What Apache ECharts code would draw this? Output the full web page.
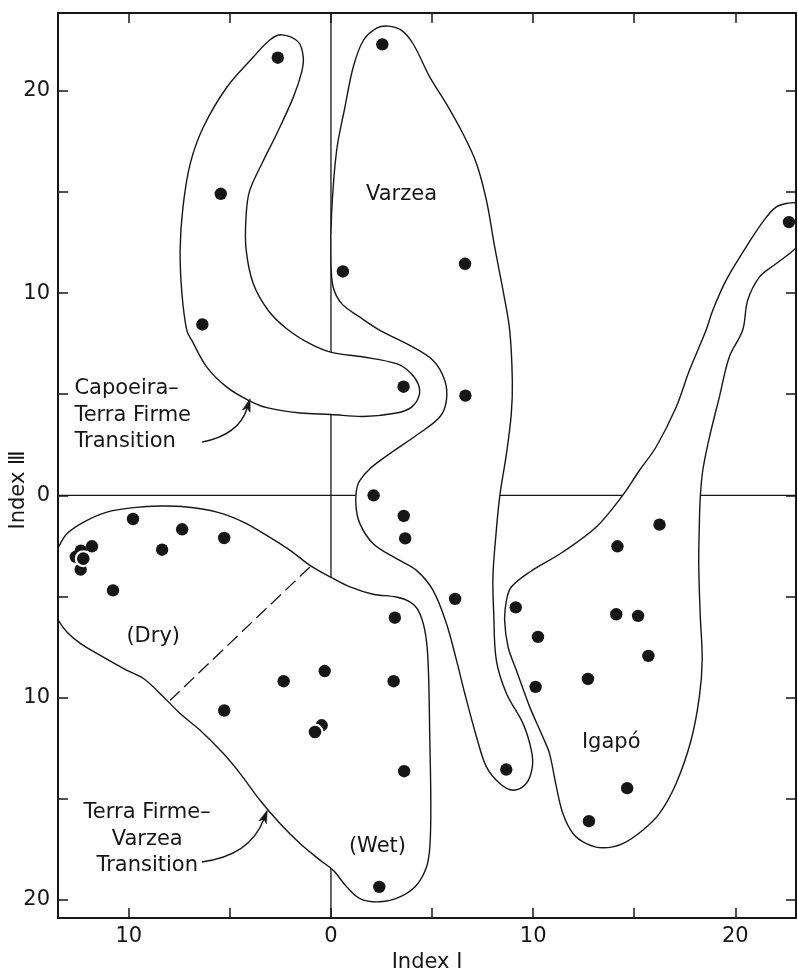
<!DOCTYPE html>
<html>
<head>
<meta charset="utf-8">
<script src="https://cdn.jsdelivr.net/npm/echarts@6/dist/echarts.min.js"></script>
<style>
  html, body { margin: 0; padding: 0; background: #fff; }
  #chart { width: 798px; height: 971px; }
</style>
</head>
<body>
<div id="chart"></div>
<script>
// Axis extents and tick positions (Index I horizontal, Index III vertical)
const xRange = [-13.5, 23];
const yRange = [-20.9, 23.85];
const xTickValues = [-10, -5, 0, 5, 10, 15, 20];
const xLabelValues = [-10, 0, 10, 20];
const yTickValues = [-20, -15, -10, -5, 0, 5, 10, 15, 20];
const yLabelValues = [-20, -10, 0, 10, 20];

// Stand scores on Index I / Index III
const sites = [
  [-2.63, 21.64], [2.54, 22.3], [-5.45, 14.91], [-6.36, 8.45], [0.59, 11.07],
  [6.63, 11.45], [22.65, 13.51], [3.59, 5.37], [6.65, 4.93], [2.11, 0],
  [3.6, -1.02], [3.67, -2.13], [6.14, -5.12], [3.16, -6.05], [9.14, -5.54],
  [10.24, -7.0], [16.25, -1.45], [14.17, -2.52], [14.11, -5.88], [15.19, -5.96],
  [15.7, -7.94], [10.12, -9.47], [12.71, -9.08], [8.67, -13.56], [14.65, -14.48],
  [12.76, -16.11], [3.1, -9.19], [3.62, -13.64], [2.39, -19.36], [-0.31, -8.69],
  [-2.34, -9.19], [-5.28, -10.64], [-9.79, -1.17], [-7.36, -1.68], [-5.28, -2.11],
  [-8.35, -2.69], [-11.82, -2.52], [-12.38, -3.67], [-10.78, -4.7]
];
// Stands lying on top of others (drawn with a white rim)
const frontSites = [[-12.25, -3.13], [-0.79, -11.7]];
// Stands partly covered by the ones above
const coveredSites = [[-12.62, -3.04], [-12.37, -2.74], [-0.46, -11.37]];

// Group boundaries
const capoeiraOutline = [
  [-2.43, 22.77], [-1.61, 22.41], [-1.37, 21.67], [-1.45, 20.93], [-1.86, 19.69],
  [-2.68, 17.88], [-3.34, 16.56], [-4.03, 15.03], [-4.2, 13.76], [-4.2, 12.19],
  [-3.84, 10.46], [-3.1, 9.14], [-2.19, 8.24], [-1.04, 7.5], [0.02, 7.07],
  [1.6, 6.84], [3.24, 6.51], [3.9, 6.09], [4.31, 5.52], [4.36, 4.94],
  [3.99, 4.36], [3.24, 4.07], [1.6, 3.9], [0, 4.0], [-1.53, 4.07],
  [-3.18, 4.34], [-4.08, 4.7], [-5.15, 5.35], [-6.14, 6.34], [-6.88, 7.66],
  [-7.13, 8.16], [-7.37, 9.97], [-7.46, 12.11], [-7.32, 14.25], [-6.96, 16.4],
  [-6.31, 18.21], [-5.15, 20.18], [-3.84, 21.67], [-3.01, 22.53]
];
const varzeaOutline = [
  [2.83, 23.2], [3.49, 22.99], [4.06, 22.33], [4.89, 20.68], [5.71, 19.36],
  [6.53, 17.88], [7.2, 16.4], [7.69, 14.58], [8.1, 12.27], [8.51, 10.13],
  [8.84, 8.16], [8.97, 5.68], [8.92, 4.04], [8.68, 2.06], [8.35, -0.03],
  [8.15, -2.06], [8.01, -4.04], [8.05, -5.85], [8.18, -8.16], [8.68, -9.8],
  [9.5, -11.29], [9.91, -12.6], [9.96, -13.43], [9.66, -14.25], [9.0, -14.58],
  [8.35, -14.25], [7.69, -13.43], [7.2, -11.95], [6.62, -9.8], [6.21, -8.16],
  [5.71, -6.34], [5.05, -4.7], [4.23, -3.71], [3.24, -3.13], [2.09, -2.39],
  [1.43, -1.4], [1.23, -0.41], [1.35, 0.58], [1.93, 1.32], [2.91, 2.06],
  [4.23, 2.97], [5.38, 3.87], [5.71, 4.7], [5.63, 5.68], [5.05, 6.67],
  [3.9, 7.41], [2.42, 8.16], [1.43, 8.81], [0.53, 9.48], [0.11, 10.3],
  [0.0, 11.62], [0.03, 13.92], [0.28, 17.05], [0.69, 19.19], [1.1, 21.17],
  [1.6, 22.49], [2.26, 23.1]
];
const igapoOutline = [
  [22.63, 14.45], [22.01, 14.25], [21.35, 13.51], [20.53, 12.27], [19.54, 10.63],
  [18.88, 9.14], [18.55, 8.16], [17.73, 6.18], [17.07, 4.36], [16.08, 2.39],
  [15.26, 1.24], [14.43, 0], [13.12, -1.57], [11.47, -2.8], [9.83, -3.79],
  [8.92, -4.53], [8.68, -5.19], [8.59, -6.18], [8.76, -7.5], [9.17, -8.65],
  [9.83, -10.46], [10.48, -11.95], [10.81, -12.77], [11.15, -14.42], [11.47, -15.73],
  [11.97, -16.72], [12.63, -17.22], [13.45, -17.43], [14.43, -17.22], [15.42, -16.56],
  [16.25, -15.73], [17.07, -14.25], [17.81, -12.11], [18.22, -9.97], [18.36, -8.16],
  [18.26, -5.85], [18.19, -3.38], [18.22, -1.4], [18.27, -0.03], [18.39, 1.24],
  [18.72, 2.88], [19.21, 4.86], [19.7, 6.84], [20.36, 8.16], [20.61, 9.64],
  [21.19, 10.79], [22.01, 11.45], [22.96, 12.19], [23.46, 12.85], [23.46, 13.99],
  [23.06, 14.43]
];
const terraFirmeOutline = [
  [-13.48, -2.56], [-13.05, -1.89], [-12.23, -1.32], [-11.08, -0.83], [-9.76, -0.61],
  [-8.44, -0.53], [-7.13, -0.58], [-5.64, -0.83], [-4.33, -1.32], [-3.18, -1.98],
  [-2.02, -2.72], [-1.04, -3.46], [0.03, -4.07], [0.94, -4.53], [2.09, -4.89],
  [3.24, -5.03], [3.9, -5.27], [4.31, -5.68], [4.64, -6.67], [4.8, -8.16],
  [4.89, -12.11], [4.94, -15.41], [4.89, -17.39], [4.73, -18.37], [4.23, -19.28],
  [3.41, -19.86], [2.42, -20.1], [1.43, -19.94], [0.78, -19.36], [0.11, -18.54],
  [-0.54, -18.04], [-1.53, -17.22], [-2.52, -16.23], [-3.51, -15.08], [-4.49, -13.76],
  [-5.32, -12.77], [-6.47, -11.62], [-7.46, -10.79], [-8.28, -9.97], [-9.27, -9.06],
  [-10.09, -8.65], [-11.41, -7.91], [-12.4, -7.32], [-13.05, -6.77], [-13.48, -6.18],
  [-13.8, -5.5], [-13.8, -3.2]
];
// Split between the dry and wet parts of the transition group
const dryWetDivide = [[-1.04, -3.54], [-7.95, -10.13]];
// Pointers from the group names to their boundaries: [from, to]
const pointerPaths = [
  [[-6.39, 2.63], [-4.0, 4.78]],
  [[-6.39, -18.13], [-3.15, -15.57]]
];

// Group names
const annotationText = [
  'Varzea', 'Capoeira–\nTerra Firme\nTransition', '(Dry)', '(Wet)', 'Igapó',
  'Terra Firme–\nVarzea\nTransition'
];
const annotationAt = [
  [3.49, 14.86], [-12.69, 3.95], [-8.79, -6.97], [2.3, -17.39], [13.86, -12.2],
  [-9.09, -17.0]
];

const ink = '#161616';
const face = 'DejaVu Sans';
const blockAlign = { 'Capoeira–\nTerra Firme\nTransition': 'left' };

function outlineSeries(name, pts) {
  return {
    type: 'custom',
    name: name,
    coordinateSystem: 'cartesian2d',
    clip: true,
    z: 3,
    silent: true,
    data: pts,
    renderItem: function (params, api) {
      if (params.dataIndex !== 0) return null;
      const points = pts.map(function (p) { return api.coord(p); });
      return {
        type: 'polygon',
        shape: { points: points, smooth: 0.35 },
        style: { fill: '#ffffff', stroke: ink, lineWidth: 1.4 }
      };
    }
  };
}

function axisPair(kind, pos, range, ticks, labels, withLabels) {
  return {
    type: 'value',
    min: range[0],
    max: range[1],
    position: pos,
    z: 10,
    axisLine: { show: true, onZero: false, lineStyle: { color: ink, width: 2 } },
    axisTick: { show: true, inside: true, length: 10, customValues: ticks,
      lineStyle: { color: ink, width: 1.5 } },
    axisLabel: { show: withLabels, customValues: labels,
      formatter: function (v) { return String(Math.abs(v)); },
      margin: kind === 'x' ? 8 : 8, color: ink, fontSize: 21, fontFamily: face },
    splitLine: { show: false }
  };
}

const chart = echarts.init(document.getElementById('chart'));

const xBottom = axisPair('x', 'bottom', xRange, xTickValues, xLabelValues, true);
xBottom.name = 'Index Ⅰ';
xBottom.nameLocation = 'middle';
xBottom.nameGap = 30;
xBottom.nameTextStyle = { color: ink, fontSize: 21, fontFamily: face };

chart.setOption({
  animation: false,
  backgroundColor: '#ffffff',
  grid: { left: 58, top: 13, width: 738, height: 905, outerBoundsMode: 'none' },
  xAxis: [xBottom, axisPair('x', 'top', xRange, xTickValues, xLabelValues, false)],
  yAxis: [
    axisPair('y', 'left', yRange, yTickValues, yLabelValues, true),
    axisPair('y', 'right', yRange, yTickValues, yLabelValues, false)
  ],
  graphic: [{
    type: 'text',
    x: 19,
    y: 490,
    rotation: Math.PI / 2,
    z: 20,
    style: {
      text: 'Index Ⅲ',
      fill: ink,
      font: '21px "DejaVu Sans"',
      align: 'center',
      verticalAlign: 'middle'
    }
  }],
  series: [
    {
      type: 'line', name: 'Index I = 0', z: 1, silent: true, symbol: 'none',
      data: [[0, yRange[0]], [0, yRange[1]]],
      lineStyle: { color: ink, width: 1.3 }
    },
    {
      type: 'line', name: 'Index III = 0', z: 1, silent: true, symbol: 'none',
      data: [[xRange[0], 0], [xRange[1], 0]],
      lineStyle: { color: ink, width: 1.3 }
    },
    outlineSeries('Capoeira-Terra Firme Transition', capoeiraOutline),
    outlineSeries('Varzea', varzeaOutline),
    outlineSeries('Igapó', igapoOutline),
    outlineSeries('Terra Firme-Varzea Transition', terraFirmeOutline),
    {
      type: 'line', name: 'Dry / Wet', z: 4, silent: true, symbol: 'none',
      data: dryWetDivide,
      lineStyle: { color: ink, width: 1.3, type: [14, 6] }
    },
    {
      // curved pointers ending in a filled arrowhead
      type: 'custom', name: 'pointers', z: 4, silent: true,
      coordinateSystem: 'cartesian2d',
      data: pointerPaths.map(function (p) { return [p[0][0], p[0][1], p[1][0], p[1][1]]; }),
      encode: { x: [0, 2], y: [1, 3] },
      renderItem: function (params, api) {
        const a = api.coord([api.value(0), api.value(1)]);
        const b = api.coord([api.value(2), api.value(3)]);
        const bend = -0.3;
        const cp = [
          (a[0] + b[0]) / 2 - (a[1] - b[1]) * bend,
          (a[1] + b[1]) / 2 - (b[0] - a[0]) * bend
        ];
        const dx = b[0] - cp[0];
        const dy = b[1] - cp[1];
        const len = Math.sqrt(dx * dx + dy * dy);
        const ux = dx / len;
        const uy = dy / len;
        const headLen = 13;
        const headHalf = 4;
        const base = [b[0] - ux * headLen, b[1] - uy * headLen];
        const notch = [b[0] - ux * headLen * 0.75, b[1] - uy * headLen * 0.75];
        const left = [base[0] - uy * headHalf, base[1] + ux * headHalf];
        const right = [base[0] + uy * headHalf, base[1] - ux * headHalf];
        return {
          type: 'group',
          children: [
            {
              type: 'bezierCurve',
              shape: { x1: a[0], y1: a[1], x2: notch[0], y2: notch[1], cpx1: cp[0], cpy1: cp[1] },
              style: { stroke: ink, fill: null, lineWidth: 1.4 }
            },
            {
              type: 'polygon',
              shape: { points: [b, left, notch, right] },
              style: { fill: ink, stroke: ink, lineWidth: 0.6 }
            }
          ]
        };
      }
    },
    {
      type: 'scatter', name: 'covered', z: 5, silent: true,
      symbolSize: 12.4, data: coveredSites,
      itemStyle: { color: ink, opacity: 1 }
    },
    {
      type: 'scatter', name: 'stands', z: 6, silent: true,
      symbolSize: 12.4, data: sites,
      itemStyle: { color: ink, opacity: 1 }
    },
    {
      type: 'scatter', name: 'front', z: 7, silent: true,
      symbolSize: 14.8, data: frontSites,
      itemStyle: { color: ink, opacity: 1, borderColor: '#ffffff', borderWidth: 2.2 }
    },
    {
      type: 'custom', name: 'labels', z: 8, silent: true,
      coordinateSystem: 'cartesian2d',
      data: annotationAt,
      renderItem: function (params, api) {
        const p = api.coord(annotationAt[params.dataIndex]);
        const txt = annotationText[params.dataIndex];
        return {
          type: 'text',
          x: p[0],
          y: p[1],
          style: {
            text: txt,
            fill: ink,
            font: '21px "DejaVu Sans"',
            align: blockAlign[txt] || 'center',
            verticalAlign: 'middle',
            lineHeight: 26.5
          }
        };
      }
    }
  ]
});
</script>
</body>
</html>
